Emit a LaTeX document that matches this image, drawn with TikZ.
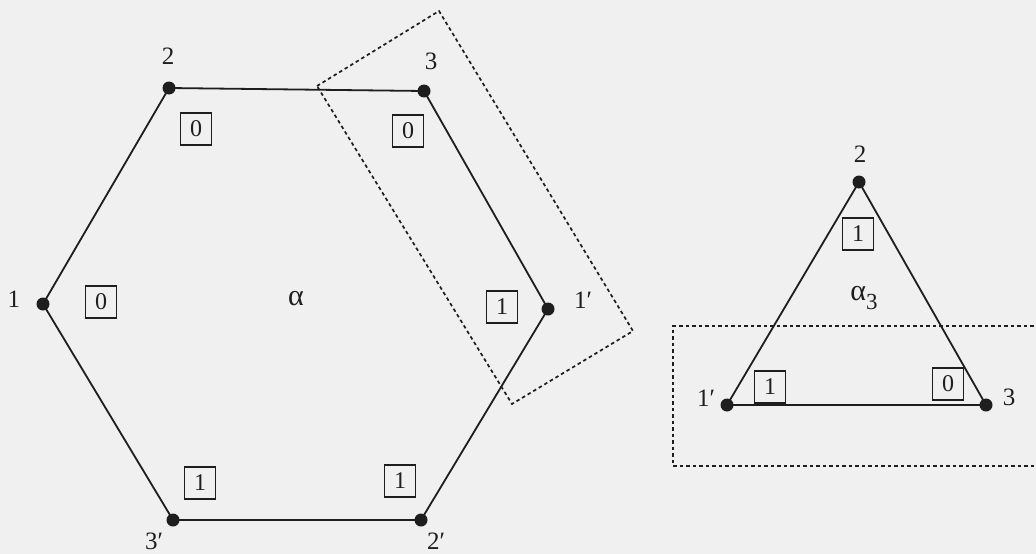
\documentclass[tikz,border=0pt]{standalone}
\usepackage{fontspec}
\setmainfont{Liberation Serif}
\definecolor{bg}{HTML}{F0F0F0}
\definecolor{ink}{HTML}{1E1E1E}
\begin{document}
\begin{tikzpicture}[x=1pt,y=-1pt,
  vtx/.style={circle,fill=ink,inner sep=0pt,minimum size=13pt},
  lab/.style={font=\fontsize{25}{27}\selectfont,text=ink,inner sep=0pt},
  valbox/.style={draw=ink,line width=1.4pt,minimum width=31pt,minimum height=32pt,inner sep=0pt,font=\fontsize{24}{26}\selectfont,text=ink},
  edge/.style={draw=ink,line width=1.8pt},
  frame/.style={draw=ink,line width=1.7pt,dash pattern=on 3.5pt off 3pt}]
\fill[bg] (0,0) rectangle (1036,554);
\clip (0,0) rectangle (1036,554);
% hexagon
\node[vtx] (h1) at (43,304) {};
\node[vtx] (h2) at (169,88) {};
\node[vtx] (h3) at (424,91) {};
\node[vtx] (h1p) at (548,309) {};
\node[vtx] (h2p) at (421,520) {};
\node[vtx] (h3p) at (173,520) {};
\draw[edge] (h1.center) -- (h2.center) -- (h3.center) -- (h1p.center) -- (h2p.center) -- (h3p.center) -- cycle;
\node[lab] (l1) at (14,299) {1};
\node[lab] (l2) at (168,56) {2};
\node[lab] (l3) at (431,61) {3};
\node[lab] (l1p) at (583,300) {1′};
\node[lab] (l2p) at (436,541) {2′};
\node[lab] (l3p) at (154,541) {3′};
\node[valbox] (b2) at (196,129) {0};
\node[valbox] (b3) at (408,131) {0};
\node[valbox] (b1) at (101,302) {0};
\node[valbox] (b1p) at (502,307) {1};
\node[valbox] (b3p) at (200,483) {1};
\node[valbox] (b2p) at (400,481) {1};
\node[lab,font=\fontsize{30}{32}\selectfont] (alpha) at (296,299) {α};
% rotated dashed frame
\coordinate (fa) at (317,86);
\coordinate (fb) at (439,11);
\coordinate (fc) at (633,331);
\coordinate (fd) at (512,404);
\draw[frame] (fa) -- (fb) -- (fc) -- (fd) -- cycle;
% triangle
\node[vtx] (t2) at (859,182) {};
\node[vtx] (t1p) at (727,405) {};
\node[vtx] (t3) at (986,405) {};
\draw[edge] (t2.center) -- (t1p.center) -- (t3.center) -- cycle;
\node[lab] (tl2) at (860,154) {2};
\node[lab] (tl1p) at (706,398) {1′};
\node[lab] (tl3) at (1009,397) {3};
\node[valbox] (tb2) at (858,234) {1};
\node[valbox] (tb1p) at (770,387) {1};
\node[valbox] (tb3) at (948,384) {0};
\node[lab,font=\fontsize{30}{32}\selectfont] (alpha3) at (864,298) {α\raisebox{-9pt}{\fontsize{23}{25}\selectfont 3}};
% straight dashed frame
\coordinate (ga) at (1040,326);
\coordinate (gb) at (673,326);
\coordinate (gc) at (673,466);
\coordinate (gd) at (1040,466);
\draw[frame] (ga) -- (gb) -- (gc) -- (gd);
\end{tikzpicture}
\end{document}
